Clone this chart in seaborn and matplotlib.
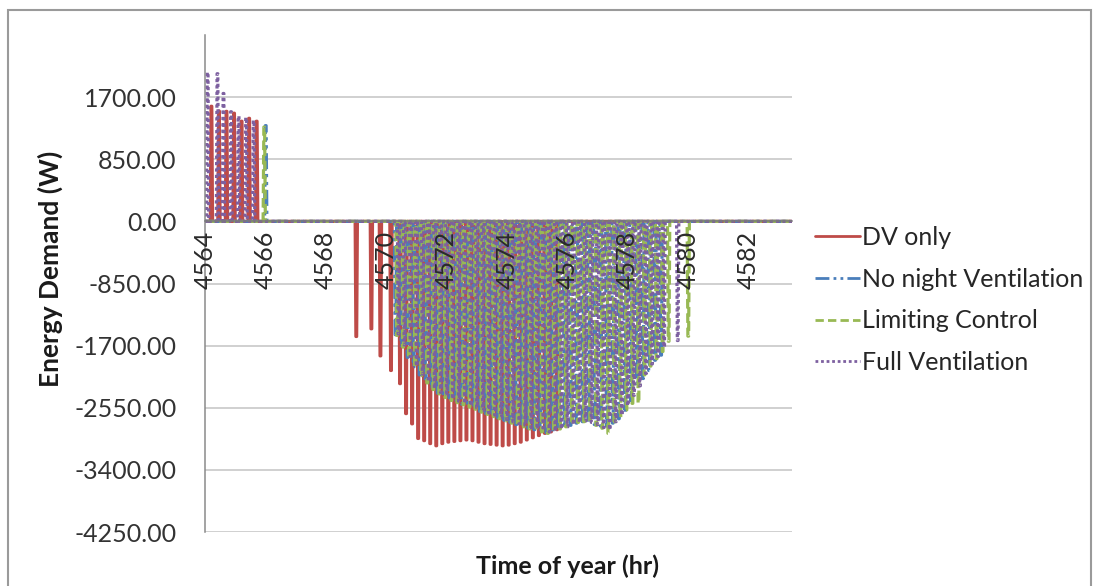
import numpy as np
import pandas as pd
import matplotlib
matplotlib.use("Agg")
import matplotlib.pyplot as plt
import seaborn as sns
from matplotlib.lines import Line2D
from matplotlib.patches import Rectangle

# ---------------- data ----------------
series_names = ["DV only", "No night Ventilation", "Limiting Control", "Full Ventilation"]
series_colors = ["#BE4B48", "#4A7EBB", "#98B954", "#7D60A0"]

x_ticks = [4564, 4566, 4568, 4570, 4572, 4574, 4576, 4578, 4580, 4582]
y_ticks = [1700, 850, 0, -850, -1700, -2550, -3400, -4250]
t_first, t_last = 4564.0, 4583.45
sample_step = 0.025          # hours between samples of the series

# positive (heating) pulses at the start of the period
dv_pos_t = [4564.2, 4564.45, 4564.7, 4564.95, 4565.2, 4565.45, 4565.7]
dv_pos_v = [1575, 1510, 1505, 1480, 1370, 1410, 1370]
nn_pos_t = [4566.0]
nn_pos_v = [1310]
lc_pos_t = [4565.95]
lc_pos_v = [1290]
fv_pos_t = [4564.08, 4564.4, 4564.6, 4564.85, 4565.1, 4565.35, 4565.6]
fv_pos_v = [2040, 2020, 1750, 1500, 1440, 1420, 1380]

# negative (cooling) pulses
dv_early_t = [4569.0, 4569.5, 4569.8, 4570.15, 4570.45]
dv_early_v = [-1575, -1470, -1840, -2040, -2220]
dv_neg_start, pulse_step = 4570.65, 0.2
dv_neg_v = [-2630, -2770, -2970, -3000, -3040, -3070, -3040, -3020, -3010, -3000,
            -2990, -3000, -3020, -3040, -3050, -3060, -3070, -3060, -3040, -3020,
            -2990, -2960, -2930, -2900, -2880, -2850]

nn_neg_start = 4570.30
nn_neg_v = [-1550, -1700, -1860, -1990, -2100, -2200, -2290, -2350, -2400, -2440,
            -2470, -2500, -2530, -2560, -2600, -2630, -2660, -2690, -2720, -2750,
            -2780, -2800, -2830, -2850, -2870, -2890, -2880, -2850, -2820, -2790,
            -2760, -2740, -2750, -2780, -2800, -2800, -2760, -2700, -2620, -2450,
            -2220, -2150, -2040, -1900, -1830]

lc_neg_start = 4570.35
lc_neg_v = [-1560, -1720, -1870, -2000, -2110, -2210, -2300, -2360, -2410, -2450,
            -2480, -2510, -2540, -2570, -2610, -2640, -2670, -2700, -2730, -2760,
            -2790, -2810, -2840, -2860, -2880, -2900, -2870, -2840, -2810, -2780,
            -2750, -2740, -2760, -2790, -2830, -2900, -2780, -2680, -2580, -2490,
            -2490, -2100, -1980, -1880, -1780, -1640]
lc_tail_t = [4580.0]
lc_tail_v = [-1570]

fv_neg_start = 4570.40
fv_neg_v = [-1540, -1690, -1850, -1980, -2090, -2190, -2280, -2340, -2390, -2430,
            -2460, -2490, -2520, -2550, -2590, -2620, -2650, -2680, -2710, -2740,
            -2770, -2790, -2820, -2840, -2860, -2880, -2870, -2840, -2810, -2780,
            -2750, -2730, -2750, -2780, -2820, -2850, -2740, -2650, -2520, -2380,
            -2250, -2080, -1950, -1850, -1720]
fv_tail_t = [4579.65]
fv_tail_v = [-1630]


def regular_times(start, values):
    return [start + pulse_step * i for i in range(len(values))]


pulses = {
    "DV only": (dv_pos_t + dv_early_t + regular_times(dv_neg_start, dv_neg_v),
                dv_pos_v + dv_early_v + dv_neg_v),
    "No night Ventilation": (nn_pos_t + regular_times(nn_neg_start, nn_neg_v),
                             nn_pos_v + nn_neg_v),
    "Limiting Control": (lc_pos_t + regular_times(lc_neg_start, lc_neg_v) + lc_tail_t,
                         lc_pos_v + lc_neg_v + lc_tail_v),
    "Full Ventilation": (fv_pos_t + regular_times(fv_neg_start, fv_neg_v) + fv_tail_t,
                         fv_pos_v + fv_neg_v + fv_tail_v),
}

n_samples = int(round((t_last - t_first) / sample_step)) + 1
time_axis = t_first + sample_step * np.arange(n_samples)

frames = []
for name in series_names:
    pt, pv = pulses[name]
    vals = np.zeros(n_samples)
    for t, v in zip(pt, pv):
        k = int(round((t - t_first) / sample_step))
        vals[k] = v
        vals[k + 1] = v
    frames.append(pd.DataFrame({"Time of year (hr)": time_axis,
                                "Energy Demand (W)": vals,
                                "series": name}))
df = pd.concat(frames, ignore_index=True)

# ---------------- style ----------------
sns.set_style("white")
plt.rcParams["font.family"] = ["Lato", "DejaVu Sans"]
plt.rcParams["text.color"] = "#262626"

palette = dict(zip(series_names, series_colors))
dash_map = {"DV only": "",
            "No night Ventilation": (5, 1.5, 1, 1.5, 1, 1.5),
            "Limiting Control": (3, 1.5),
            "Full Ventilation": (1, 1)}
LW = 2.3

W, H = 1096, 586
fig = plt.figure(figsize=(W / 100, H / 100), dpi=100)
fig.patch.set_facecolor("white")
ax = fig.add_axes([205 / W, 54 / H, (792 - 205) / W, (532 - 35) / H])

sns.lineplot(data=df, x="Time of year (hr)", y="Energy Demand (W)",
             hue="series", style="series", hue_order=series_names,
             style_order=series_names, palette=palette, dashes=dash_map,
             estimator=None, linewidth=LW, legend=False, ax=ax)

# spines first (moving a spine resets tick label properties)
for s in ["top", "right"]:
    ax.spines[s].set_visible(False)
ax.spines["bottom"].set_position(("data", 0))
ax.spines["left"].set_color("#8a8a8a")
ax.spines["left"].set_linewidth(1.1)
ax.spines["bottom"].set_color("#7a7a7a")
ax.spines["bottom"].set_linewidth(1.1)

ax.set_xlim(t_first, t_last)
ax.set_ylim(-4250, 2550)
ax.set_yticks(y_ticks)
ax.set_yticklabels([f"{v:.2f}" for v in y_ticks], fontsize=18, color="#333333")
ax.set_xticks(x_ticks)
ax.set_xticklabels([str(v) for v in x_ticks], rotation=90, fontsize=18, color="#2a2a2a")

ax.set_axisbelow(True)
ax.yaxis.grid(True, color="#c4c4c4", linewidth=1.1)
ax.xaxis.grid(False)
ax.xaxis.set_zorder(5)          # tick labels drawn over the series, as in the original
ax.tick_params(axis="y", direction="out", length=5.5, width=1, color="#8a8a8a", pad=15)
ax.tick_params(axis="x", direction="inout", length=8, width=1, color="#7a7a7a", pad=3)
ax.set_xlabel("")
ax.set_ylabel("")

fig.text(50 / W, 1 - 269 / H, "Energy Demand (W)", rotation=90, fontsize=19,
         fontweight="bold", ha="center", va="center", color="#1a1a1a")
fig.text(567 / W, 1 - 566 / H, "Time of year (hr)", fontsize=18,
         fontweight="bold", ha="center", va="center", color="#1a1a1a")

handles = []
for n in series_names:
    h = Line2D([0], [0], color=palette[n], linewidth=2.0)
    if dash_map[n]:
        h.set_dashes(dash_map[n])
    handles.append(h)
fig.legend(handles, series_names, loc="center left",
           bbox_to_anchor=(815 / W, 1 - 300 / H), frameon=False, fontsize=18,
           handlelength=1.8, handletextpad=0.1, labelspacing=0.75,
           borderpad=0, borderaxespad=0, labelcolor="#262626")

fig.add_artist(Rectangle((8 / W, -0.02), (1091 - 8) / W, (H - 10) / H + 0.02,
                         transform=fig.transFigure, fill=False,
                         edgecolor="#9a9a9a", linewidth=1.5))

fig.savefig("out.png", dpi=100, facecolor="white")
